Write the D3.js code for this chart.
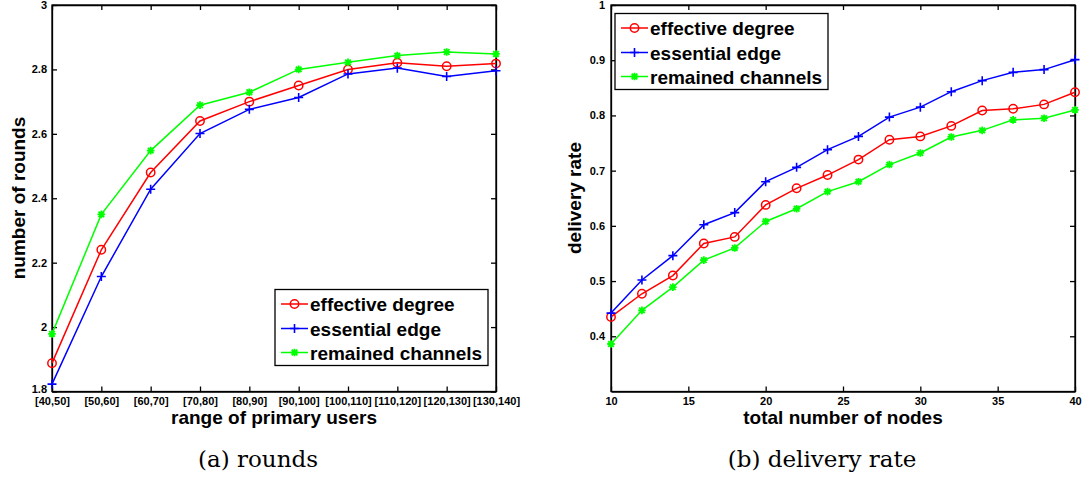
<!DOCTYPE html>
<html>
<head>
<meta charset="utf-8">
<script src="https://cdn.jsdelivr.net/npm/d3@7"></script>
<style>
  body { margin: 0; background: #fff; }
  text { font-family: "Liberation Sans", Arial, sans-serif; font-weight: bold; fill: #000; }
  .caption { font-family: "DejaVu Serif", serif; font-weight: normal; }
  .axis path, .axis line { stroke: #000; stroke-width: 1.3; }
</style>
</head>
<body>
<script>
// data for (a) rounds
var rangeCats = ["[40,50]", "[50,60]", "[60,70]", "[70,80]", "[80,90]", "[90,100]", "[100,110]", "[110,120]", "[120,130]", "[130,140]"];
var roundsEffective = [1.888, 2.24, 2.48, 2.64, 2.70, 2.75, 2.80, 2.821, 2.81, 2.818];
var roundsEssential = [1.823, 2.157, 2.428, 2.601, 2.676, 2.713, 2.786, 2.804, 2.778, 2.796];
var roundsRemained = [1.979, 2.35, 2.548, 2.689, 2.729, 2.80, 2.822, 2.843, 2.854, 2.848];
var roundsTicks = [1.8, 2, 2.2, 2.4, 2.6, 2.8, 3];

// data for (b) delivery rate
var nodeCounts = [10, 12, 14, 16, 18, 20, 22, 24, 26, 28, 30, 32, 34, 36, 38, 40];
var rateEffective = [0.435, 0.477, 0.510, 0.568, 0.580, 0.638, 0.668, 0.692, 0.720, 0.756, 0.762, 0.781, 0.809, 0.812, 0.820, 0.842];
var rateEssential = [0.442, 0.502, 0.546, 0.602, 0.624, 0.680, 0.706, 0.738, 0.762, 0.797, 0.815, 0.843, 0.863, 0.878, 0.883, 0.901];
var rateRemained = [0.386, 0.447, 0.489, 0.538, 0.560, 0.608, 0.631, 0.662, 0.680, 0.711, 0.732, 0.761, 0.773, 0.792, 0.795, 0.810];
var rateYTicks = [0.4, 0.5, 0.6, 0.7, 0.8, 0.9, 1];
var rateXTicks = [10, 15, 20, 25, 30, 35, 40];

var seriesNames = ["effective degree", "essential edge", "remained channels"];
var seriesColors = ["#ff0000", "#0000ff", "#00ff00"];
var seriesMarkers = ["circle", "plus", "star"];

var width = 1085,
    height = 477;

var svg = d3.select("body").append("svg")
    .attr("width", width)
    .attr("height", height);

svg.append("rect").attr("width", width).attr("height", height).attr("fill", "#fff");

function drawMarker(g, type, color) {
  if (type === "circle") {
    g.append("circle").attr("r", 4.2).attr("fill", "none")
      .attr("stroke", color).attr("stroke-width", 1.5);
  } else if (type === "plus") {
    g.append("path").attr("d", "M-4.5,0H4.5M0,-4.5V4.5")
      .attr("stroke", color).attr("stroke-width", 1.6);
  } else {
    g.append("path").attr("d", "M-3.8,0H3.8M0,-3.8V3.8M-2.8,-2.8L2.8,2.8M-2.8,2.8L2.8,-2.8")
      .attr("stroke", color).attr("stroke-width", 1.8);
  }
}

function drawSeries(g, xs, ys, x, y, i) {
  var pts = xs.map(function(d, k) { return [x(d), y(ys[k])]; });
  g.append("path")
    .attr("d", d3.line()(pts))
    .attr("fill", "none")
    .attr("stroke", seriesColors[i])
    .attr("stroke-width", 1.5);
  pts.forEach(function(p) {
    var m = g.append("g").attr("transform", "translate(" + p[0] + "," + p[1] + ")");
    drawMarker(m, seriesMarkers[i], seriesColors[i]);
  });
}

function drawLegend(g, x0, y0, w, h) {
  g.append("rect")
    .attr("x", x0).attr("y", y0).attr("width", w).attr("height", h)
    .attr("fill", "#fff").attr("stroke", "#000").attr("stroke-width", 1.3);
  var rowY = [14.5, 39, 63];
  seriesNames.forEach(function(name, i) {
    var cy = y0 + rowY[i];
    g.append("line")
      .attr("x1", x0 + 6).attr("x2", x0 + 33)
      .attr("y1", cy).attr("y2", cy)
      .attr("stroke", seriesColors[i]).attr("stroke-width", 1.5);
    var m = g.append("g").attr("transform", "translate(" + (x0 + 19.5) + "," + cy + ")");
    drawMarker(m, seriesMarkers[i], seriesColors[i]);
    g.append("text")
      .attr("x", x0 + 35).attr("y", cy + 7)
      .style("font-size", "19px")
      .text(name);
  });
}

function drawBox(g, x, y, xTicks, yTicks, fmtX, xFont, yFont, padY) {
  var x0 = x.range()[0], x1 = x.range()[1],
      y0 = y.range()[0], y1 = y.range()[1];

  var bottom = g.append("g").attr("class", "axis")
    .attr("transform", "translate(0," + y0 + ")")
    .call(d3.axisBottom(x).tickValues(xTicks).tickSize(-5).tickSizeOuter(0).tickPadding(6).tickFormat(fmtX));
  bottom.selectAll("text").style("font-size", xFont);

  g.append("g").attr("class", "axis")
    .attr("transform", "translate(0," + y1 + ")")
    .call(d3.axisTop(x).tickValues(xTicks).tickSize(-5).tickSizeOuter(0).tickFormat(""));

  var left = g.append("g").attr("class", "axis")
    .attr("transform", "translate(" + x0 + ",0)")
    .call(d3.axisLeft(y).tickValues(yTicks).tickSize(-5).tickSizeOuter(0).tickPadding(padY).tickFormat(function(d) { return String(d); }));
  left.selectAll("text").style("font-size", yFont);

  g.append("g").attr("class", "axis")
    .attr("transform", "translate(" + x1 + ",0)")
    .call(d3.axisRight(y).tickValues(yTicks).tickSize(-5).tickSizeOuter(0).tickFormat(""));

  g.selectAll(".axis path.domain").attr("fill", "none");
  return left;
}

// ---- (a) rounds ----
var gA = svg.append("g");
var xA = d3.scalePoint().domain(rangeCats).range([52, 496]).padding(0);
var yA = d3.scaleLinear().domain([1.8, 3]).range([391.5, 5]);

var leftA = drawBox(gA, xA, yA, rangeCats, roundsTicks, function(d) { return d; }, "11px", "11px", 5);
// lowest y label sits just above the first category label
leftA.selectAll("text").filter(function(d) { return d === 1.8; }).attr("dy", "0.05em");
// close the box
gA.append("rect").attr("x", 52).attr("y", 5).attr("width", 444).attr("height", 386.5)
  .attr("fill", "none").attr("stroke", "#000").attr("stroke-width", 1.3);

[roundsEffective, roundsEssential, roundsRemained].forEach(function(vals, i) {
  drawSeries(gA, rangeCats, vals, xA, yA, i);
});
drawLegend(gA, 275, 289.5, 213, 76);

gA.append("text")
  .attr("x", 274).attr("y", 424)
  .attr("text-anchor", "middle")
  .style("font-size", "19px")
  .text("range of primary users");
gA.append("text")
  .attr("transform", "translate(25,198) rotate(-90)")
  .attr("text-anchor", "middle")
  .style("font-size", "19px")
  .text("number of rounds");
gA.append("text")
  .attr("class", "caption")
  .attr("x", 258).attr("y", 467)
  .attr("text-anchor", "middle")
  .style("font-size", "23px")
  .text("(a) rounds");

// ---- (b) delivery rate ----
var gB = svg.append("g");
var xB = d3.scaleLinear().domain([10, 40]).range([611, 1075]);
var yB = d3.scaleLinear().domain([0.3, 1]).range([391.5, 5]);

drawBox(gB, xB, yB, rateXTicks, rateYTicks, d3.format("d"), "11px", "11px", 6);
gB.append("rect").attr("x", 611).attr("y", 5).attr("width", 464).attr("height", 386.5)
  .attr("fill", "none").attr("stroke", "#000").attr("stroke-width", 1.3);

[rateEffective, rateEssential, rateRemained].forEach(function(vals, i) {
  drawSeries(gB, nodeCounts, vals, xB, yB, i);
});
drawLegend(gB, 615, 13.5, 213, 76);

gB.append("text")
  .attr("x", 843).attr("y", 424)
  .attr("text-anchor", "middle")
  .style("font-size", "19px")
  .text("total number of nodes");
gB.append("text")
  .attr("transform", "translate(581,198) rotate(-90)")
  .attr("text-anchor", "middle")
  .style("font-size", "19px")
  .text("delivery rate");
gB.append("text")
  .attr("class", "caption")
  .attr("x", 822).attr("y", 467)
  .attr("text-anchor", "middle")
  .style("font-size", "23px")
  .text("(b) delivery rate");
</script>
</body>
</html>
